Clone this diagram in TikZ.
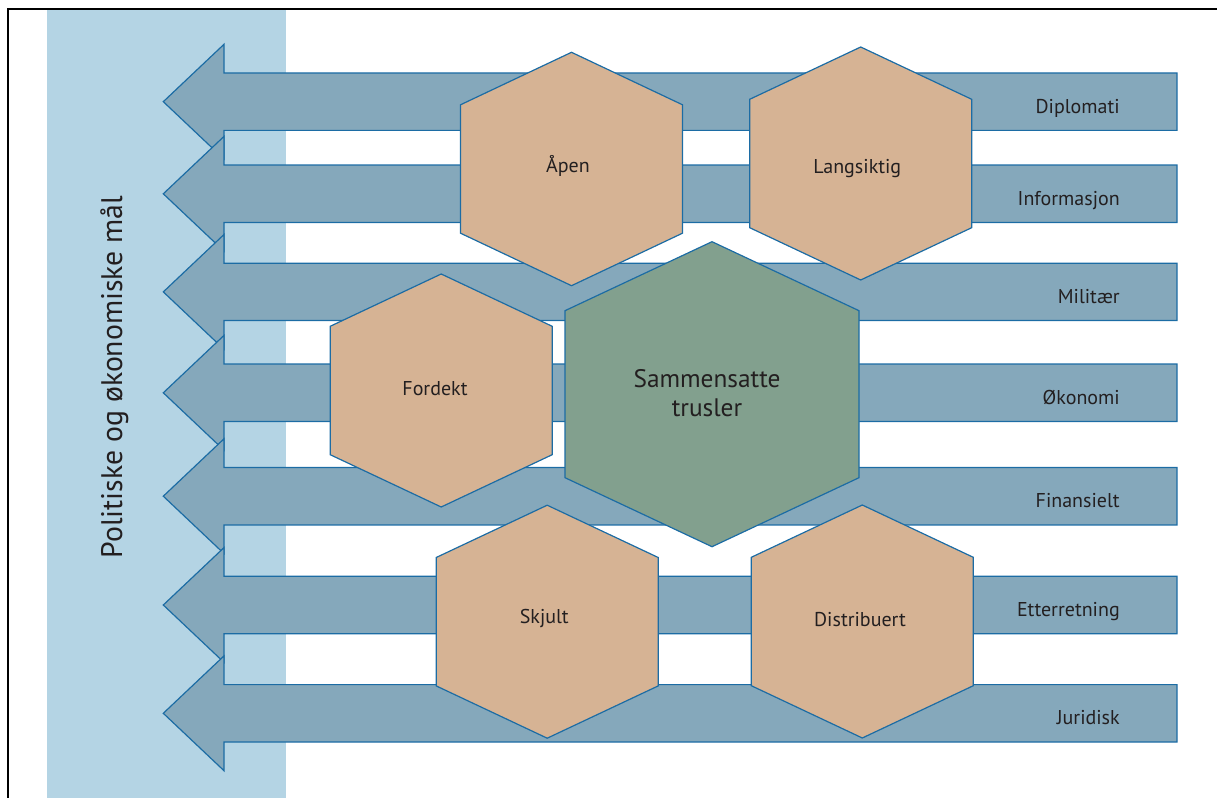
\documentclass[tikz,border=0pt]{standalone}
\usepackage{fontspec}
\setmainfont{PT Sans}

\definecolor{bandblue}{RGB}{180,212,228}
\definecolor{arrowfill}{RGB}{133,168,187}
\definecolor{edgeblue}{RGB}{28,108,164}
\definecolor{hextan}{RGB}{214,179,148}
\definecolor{hexgreen}{RGB}{130,160,142}
\definecolor{textdark}{RGB}{35,31,32}

\tikzset{
  arrowband/.style={draw=edgeblue, fill=arrowfill, line width=0.9pt},
  hexbox/.style={draw=edgeblue, fill=hextan, line width=0.9pt},
  hexcore/.style={hexbox, fill=hexgreen},
  lbl/.style={text=textdark, inner sep=0pt, font=\fontsize{15}{18}\selectfont},
  bandlbl/.style={lbl, anchor=base east},
}

\begin{document}
\begin{tikzpicture}[x=0.75pt,y=0.75pt,yscale=-1,xscale=1]
\useasboundingbox (0,0) rectangle (1217,798);

%Frame
\draw [line width=1.5pt] (8,798) -- (8,9) -- (1217,9) ;
%Goal band
\fill [bandblue] (47,10) rectangle (286,798) ;
\node [lbl, font=\fontsize{22.3}{26}\selectfont, rotate=90, anchor=base] (goal) at (122,377) {Politiske og økonomiske mål};

%Left Arrow: Diplomati
\draw [arrowband] (1177,73) -- (224,73) -- (224,44.3) -- (163.3,101.7) -- (224,159.1) -- (224,130.4) -- (1177,130.4) -- cycle ;
%Left Arrow: Informasjon
\draw [arrowband] (1177,165.1) -- (224,165.1) -- (224,136.4) -- (163.3,193.8) -- (224,251.2) -- (224,222.5) -- (1177,222.5) -- cycle ;
%Left Arrow: Militaer
\draw [arrowband] (1177,263.2) -- (224,263.2) -- (224,234.5) -- (163.3,291.9) -- (224,349.3) -- (224,320.6) -- (1177,320.6) -- cycle ;
%Left Arrow: Okonomi
\draw [arrowband] (1177,364.1) -- (224,364.1) -- (224,335.4) -- (163.3,392.8) -- (224,450.2) -- (224,421.5) -- (1177,421.5) -- cycle ;
%Left Arrow: Finansielt
\draw [arrowband] (1177,467.5) -- (224,467.5) -- (224,438.8) -- (163.3,496.2) -- (224,553.6) -- (224,524.9) -- (1177,524.9) -- cycle ;
%Left Arrow: Etterretning
\draw [arrowband] (1177,576.3) -- (224,576.3) -- (224,547.6) -- (163.3,605) -- (224,662.4) -- (224,633.7) -- (1177,633.7) -- cycle ;
%Left Arrow: Juridisk
\draw [arrowband] (1177,684.6) -- (224,684.6) -- (224,655.9) -- (163.3,713.3) -- (224,770.7) -- (224,742) -- (1177,742) -- cycle ;

\node [bandlbl] (diplomati) at (1120,113.3) {Diplomati};
\node [bandlbl] (informasjon) at (1120,205.3) {Informasjon};
\node [bandlbl] (militaer) at (1120,303.4) {Militær};
\node [bandlbl] (okonomi) at (1120,404.3) {Økonomi};
\node [bandlbl] (finansielt) at (1120,507.7) {Finansielt};
\node [bandlbl] (etterretning) at (1120,616.5) {Etterretning};
\node [bandlbl] (juridisk) at (1120,724.8) {Juridisk};

%Hexagon: Apen
\draw [hexbox] (571.5,52.3) -- (682.5,104.8) -- (682.5,233.2) -- (571.5,285.7) -- (460.5,233.2) -- (460.5,104.8) -- cycle ;
%Hexagon: Langsiktig
\draw [hexbox] (860.7,47) -- (971.7,99.3) -- (971.7,227.7) -- (860.7,280) -- (749.7,227.7) -- (749.7,99.3) -- cycle ;
%Hexagon: Fordekt
\draw [hexbox] (441.2,274) -- (552.2,326.3) -- (552.2,454.7) -- (441.2,507) -- (330.2,454.7) -- (330.2,326.3) -- cycle ;
%Hexagon: Skjult
\draw [hexbox] (547.2,505.2) -- (658.2,557.5) -- (658.2,685.9) -- (547.2,738.2) -- (436.2,685.9) -- (436.2,557.5) -- cycle ;
%Hexagon: Distribuert
\draw [hexbox] (862.3,505) -- (973.3,557.3) -- (973.3,685.7) -- (862.3,738) -- (751.3,685.7) -- (751.3,557.3) -- cycle ;
%Hexagon: Sammensatte trusler
\draw [hexcore] (712,241.7) -- (859,310.7) -- (859,477.7) -- (712,546.7) -- (565,477.7) -- (565,310.7) -- cycle ;

\node [lbl, anchor=base] (apen) at (568,172.7) {Åpen};
\node [lbl, anchor=base] (langsiktig) at (857.3,173.3) {Langsiktig};
\node [lbl, anchor=base] (fordekt) at (435,395.7) {Fordekt};
\node [lbl, anchor=base] (skjult) at (544.3,623.3) {Skjult};
\node [lbl, anchor=base] (distribuert) at (860,626.7) {Distribuert};
\node [lbl, align=center, font=\fontsize{19}{21.75}\selectfont] (trusler) at (707,393.5) {Sammensatte\\trusler};

\end{tikzpicture}
\end{document}
